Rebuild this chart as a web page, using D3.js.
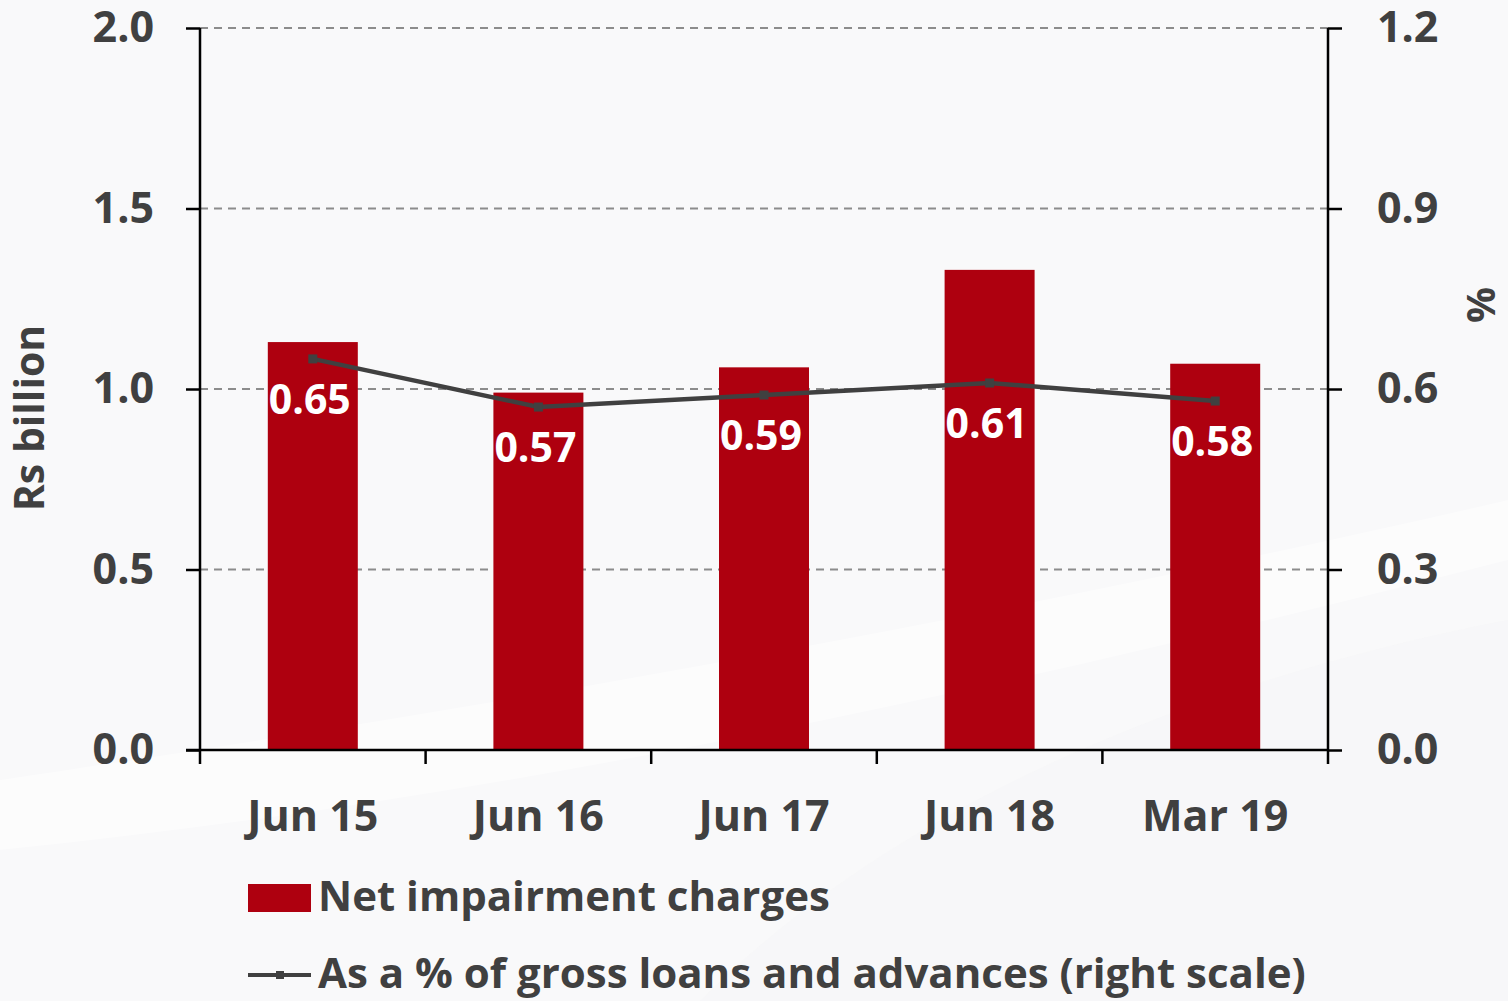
<!DOCTYPE html>
<html>
<head>
<meta charset="utf-8">
<script src="https://cdn.jsdelivr.net/npm/d3@7"></script>
<style>
  body { margin: 0; background: #fafafb; }
  svg { display: block; }
  text { font-family: "Open Sans", Lato, sans-serif; font-weight: bold; }
</style>
</head>
<body>
<div id="chart"></div>
<script>
// data
var categories = ["Jun 15", "Jun 16", "Jun 17", "Jun 18", "Mar 19"];
var impairment = [1.13, 0.99, 1.06, 1.33, 1.07];   // Rs billion, left scale
var pctLoans = [0.65, 0.57, 0.59, 0.61, 0.58];     // %, right scale
var leftTicks = [0, 0.5, 1.0, 1.5, 2.0];
var rightTicks = [0, 0.3, 0.6, 0.9, 1.2];

var W = 1508, H = 1001;
var margin = { top: 28, right: 180, bottom: 251, left: 200 },
  width = W - margin.left - margin.right,
  height = H - margin.top - margin.bottom;

var textColor = "#404040";

var root = d3.select("#chart").append("svg")
  .attr("width", W)
  .attr("height", H);

// faint background swooshes
root.append("rect").attr("width", W).attr("height", H).attr("fill", "#f9f9fa");
root.append("path")
  .attr("d", "M0,780 C400,720 900,640 1508,500 L1508,560 C1000,690 500,800 0,850 Z")
  .attr("fill", "#ffffff").attr("opacity", 0.45);
root.append("path")
  .attr("d", "M700,1001 C900,800 1200,680 1508,620 L1508,1001 Z")
  .attr("fill", "#f5f5f7").attr("opacity", 0.5);

var svg = root.append("g")
  .attr("transform", "translate(" + margin.left + "," + margin.top + ")");

// band for category positions
var xb = d3.scaleBand().domain(categories).range([0, width]);

var yL = d3.scaleLinear().domain([0, 2]).range([height, 0]);
var yR = d3.scaleLinear().domain([0, 1.2]).range([height, 0]);

// gridlines
svg.append("g")
  .selectAll("line")
  .data(leftTicks.filter(function (d) { return d > 0; }))
  .enter().append("line")
  .attr("x1", 0).attr("x2", width)
  .attr("y1", function (d) { return yL(d); })
  .attr("y2", function (d) { return yL(d); })
  .attr("stroke", "#8c8c8c")
  .attr("stroke-width", 2)
  .attr("stroke-dasharray", "8,6");

// bars
svg.append("g")
  .selectAll("rect")
  .data(impairment)
  .enter().append("rect")
  .attr("x", function (d, i) { return xb(categories[i]) + xb.bandwidth() / 2 - 45; })
  .attr("y", function (d) { return yL(d); })
  .attr("width", 90)
  .attr("height", function (d) { return height - yL(d); })
  .attr("fill", "#ae000f");

// left axis
var axL = svg.append("g")
  .call(d3.axisLeft(yL).tickValues(leftTicks).tickFormat(d3.format(".1f")).tickSize(14).tickPadding(32));
// right axis
var axR = svg.append("g")
  .attr("transform", "translate(" + width + ",0)")
  .call(d3.axisRight(yR).tickValues(rightTicks).tickFormat(d3.format(".1f")).tickSize(14).tickPadding(35));

[axL, axR].forEach(function (ax) {
  ax.select(".domain").attr("stroke", "#000").attr("stroke-width", 2.5)
    .attr("d", "M0," + height + "V0");
  ax.selectAll(".tick line").attr("stroke", "#000").attr("stroke-width", 2.5);
  ax.selectAll(".tick text").attr("fill", textColor).style("font-size", "43px");
});

// x axis
var axX = svg.append("g")
  .attr("transform", "translate(0," + height + ")")
  .call(d3.axisBottom(xb).tickSize(0).tickPadding(50));
axX.select(".domain").attr("stroke", "#000").attr("stroke-width", 2.5)
  .attr("d", "M-14,0H" + width);
axX.selectAll(".tick text").attr("fill", textColor).style("font-size", "43px");
// x tick marks at band boundaries
axX.append("g").selectAll("line")
  .data(categories.concat(["end"]))
  .enter().append("line")
  .attr("x1", function (d, i) { return i * xb.step(); })
  .attr("x2", function (d, i) { return i * xb.step(); })
  .attr("y1", 0).attr("y2", 14)
  .attr("stroke", "#000").attr("stroke-width", 2.5);

// line on right scale
var line = d3.line()
  .x(function (d, i) { return xb(categories[i]) + xb.bandwidth() / 2; })
  .y(function (d) { return yR(d); });

svg.append("path")
  .datum(pctLoans)
  .attr("d", line)
  .attr("fill", "none")
  .attr("stroke", "#404040")
  .attr("stroke-width", 4.5);

svg.append("g")
  .selectAll("rect")
  .data(pctLoans)
  .enter().append("rect")
  .attr("x", function (d, i) { return xb(categories[i]) + xb.bandwidth() / 2 - 4.5; })
  .attr("y", function (d) { return yR(d) - 4.5; })
  .attr("width", 9).attr("height", 9)
  .attr("fill", "#404040");

// data labels
svg.append("g")
  .selectAll("text")
  .data(pctLoans)
  .enter().append("text")
  .attr("x", function (d, i) { return xb(categories[i]) + xb.bandwidth() / 2 - 3; })
  .attr("y", function (d) { return yR(d) + 44; })
  .attr("text-anchor", "middle")
  .attr("dominant-baseline", "middle")
  .attr("fill", "#ffffff")
  .style("font-size", "41px")
  .text(function (d) { return d.toFixed(2); });

// axis titles
root.append("text")
  .attr("transform", "translate(33,418) rotate(-90)")
  .attr("text-anchor", "middle")
  .attr("dominant-baseline", "middle")
  .attr("fill", textColor)
  .style("font-size", "41px")
  .text("Rs billion");

root.append("text")
  .attr("transform", "translate(1484,305) rotate(-90)")
  .attr("text-anchor", "middle")
  .attr("dominant-baseline", "middle")
  .attr("fill", textColor)
  .style("font-size", "40px")
  .text("%");

// legend
root.append("rect")
  .attr("x", 248).attr("y", 884).attr("width", 63).attr("height", 28)
  .attr("fill", "#ae000f");
root.append("text")
  .attr("x", 318).attr("y", 900)
  .attr("dominant-baseline", "middle")
  .attr("fill", textColor)
  .style("font-size", "42px")
  .text("Net impairment charges");

root.append("line")
  .attr("x1", 248).attr("x2", 311).attr("y1", 975).attr("y2", 975)
  .attr("stroke", "#404040").attr("stroke-width", 4);
root.append("rect")
  .attr("x", 276).attr("y", 971).attr("width", 8).attr("height", 8)
  .attr("fill", "#404040");
root.append("text")
  .attr("x", 318).attr("y", 977)
  .attr("dominant-baseline", "middle")
  .attr("fill", textColor)
  .style("font-size", "42px")
  .text("As a % of gross loans and advances (right scale)");
</script>
</body>
</html>
